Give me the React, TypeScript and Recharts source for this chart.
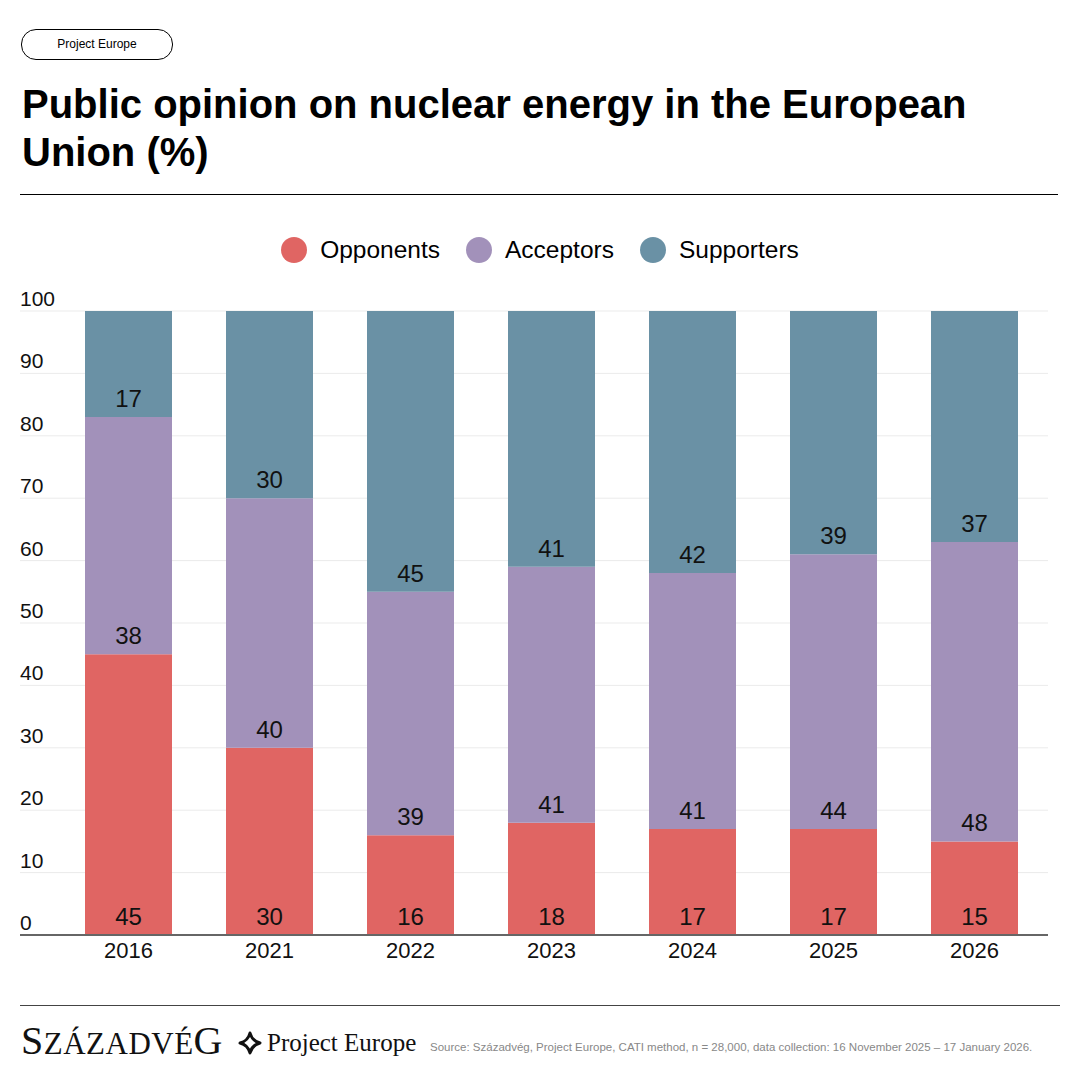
import React from 'react';
import { BarChart, Bar, XAxis, YAxis, CartesianGrid, LabelList } from 'recharts';

const years = ['2016', '2021', '2022', '2023', '2024', '2025', '2026'];
const opponents = [45, 30, 16, 18, 17, 17, 15];
const acceptors = [38, 40, 39, 41, 41, 44, 48];
const supporters = [17, 30, 45, 41, 42, 39, 37];
const yTicks = [0, 10, 20, 30, 40, 50, 60, 70, 80, 90, 100];

const series = [
  { key: 'opponents', name: 'Opponents', color: '#E06563' },
  { key: 'acceptors', name: 'Acceptors', color: '#A291BA' },
  { key: 'supporters', name: 'Supporters', color: '#6A91A5' },
];

const data = years.map((year, i) => ({
  year,
  opponents: opponents[i],
  acceptors: acceptors[i],
  supporters: supporters[i],
}));

const SANS = '"Liberation Sans", Arial, Helvetica, sans-serif';
const SERIF = '"Liberation Serif", "Times New Roman", serif';

const renderYTick = (props: any) => {
  const { y, payload } = props;
  return (
    <text x={20} y={y - 5} fill="#111" fontSize={21} fontFamily={SANS} textAnchor="start">
      {payload.value}
    </text>
  );
};

const App: React.FC = () => {
  return (
    <div
      style={{
        position: 'absolute',
        left: 0,
        top: 0,
        width: 1080,
        height: 1080,
        background: '#fff',
        fontFamily: SANS,
        color: '#000',
        overflow: 'hidden',
      }}
    >
      {/* tag pill */}
      <div
        style={{
          position: 'absolute',
          left: 21,
          top: 29,
          width: 150,
          height: 29,
          border: '1px solid #000',
          borderRadius: 15,
          fontSize: 12,
          lineHeight: '29px',
          textAlign: 'center',
        }}
      >
        Project Europe
      </div>

      <div
        style={{
          position: 'absolute',
          left: 22,
          top: 80,
          width: 1000,
          fontSize: 40,
          fontWeight: 700,
          lineHeight: '48px',
        }}
      >
        Public opinion on nuclear energy in the European Union (%)
      </div>
      <div style={{ position: 'absolute', left: 20, top: 194, width: 1038, height: 1, background: '#000' }} />

      {/* legend */}
      <div
        style={{
          position: 'absolute',
          left: 0,
          top: 235,
          width: 1080,
          height: 30,
          display: 'flex',
          justifyContent: 'center',
          alignItems: 'center',
          fontSize: 24.5,
        }}
      >
        {series.map((s) => (
          <div key={s.key} style={{ display: 'flex', alignItems: 'center', margin: '0 13px' }}>
            <div style={{ width: 26, height: 26, borderRadius: 13, background: s.color, marginRight: 13 }} />
            <span>{s.name}</span>
          </div>
        ))}
      </div>

      <div style={{ position: 'absolute', left: 0, top: 280 }}>
        <BarChart
          width={1080}
          height={700}
          data={data}
          margin={{ top: 31, right: 32, left: 20, bottom: 0 }}
          barSize={87}
        >
          <CartesianGrid vertical={false} stroke="#ebebeb" />
          <YAxis
            mirror
            width={40}
            domain={[0, 100]}
            ticks={yTicks}
            axisLine={false}
            tickLine={false}
            tick={renderYTick}
            interval={0}
          />
          <XAxis
            dataKey="year"
            height={45}
            padding={{ left: 38, right: 3 }}
            axisLine={{ stroke: '#666', strokeWidth: 2 }}
            tickLine={false}
            tickSize={0}
            tickMargin={7}
            tick={{ fill: '#111', fontSize: 22, fontFamily: SANS }}
          />
          {series.map((s) => (
            <Bar key={s.key} dataKey={s.key} stackId="a" fill={s.color} isAnimationActive={false}>
              <LabelList
                dataKey={s.key}
                position="insideBottom"
                offset={10}
                fill="#111"
                fontSize={24}
                fontFamily={SANS}
              />
            </Bar>
          ))}
        </BarChart>
      </div>

      {/* footer */}
      <div style={{ position: 'absolute', left: 20, top: 1005, width: 1040, height: 1, background: '#444' }} />
      <svg style={{ position: 'absolute', left: 0, top: 1010 }} width={1080} height={60}>
        <text x={21} y={44} fontFamily={SERIF} fill="#111" letterSpacing={0.5}>
          <tspan fontSize={40}>S</tspan>
          <tspan fontSize={31}>ZÁZADVÉ</tspan>
          <tspan fontSize={40}>G</tspan>
        </text>
        <path
          d="M250 23 Q252 31 260 33 Q252 35 250 43 Q248 35 240 33 Q248 31 250 23 Z"
          fill="none"
          stroke="#111"
          strokeWidth={3}
          strokeLinejoin="round"
        />
        <text x={267} y={41} fontFamily={SERIF} fontSize={25} fill="#111">
          Project Europe
        </text>
        <text x={430} y={41} fontFamily={SANS} fontSize={11.5} fill="#888">
          Source: Századvég, Project Europe, CATI method, n = 28,000, data collection: 16 November 2025 – 17 January 2026.
        </text>
      </svg>
    </div>
  );
};

export default App;
